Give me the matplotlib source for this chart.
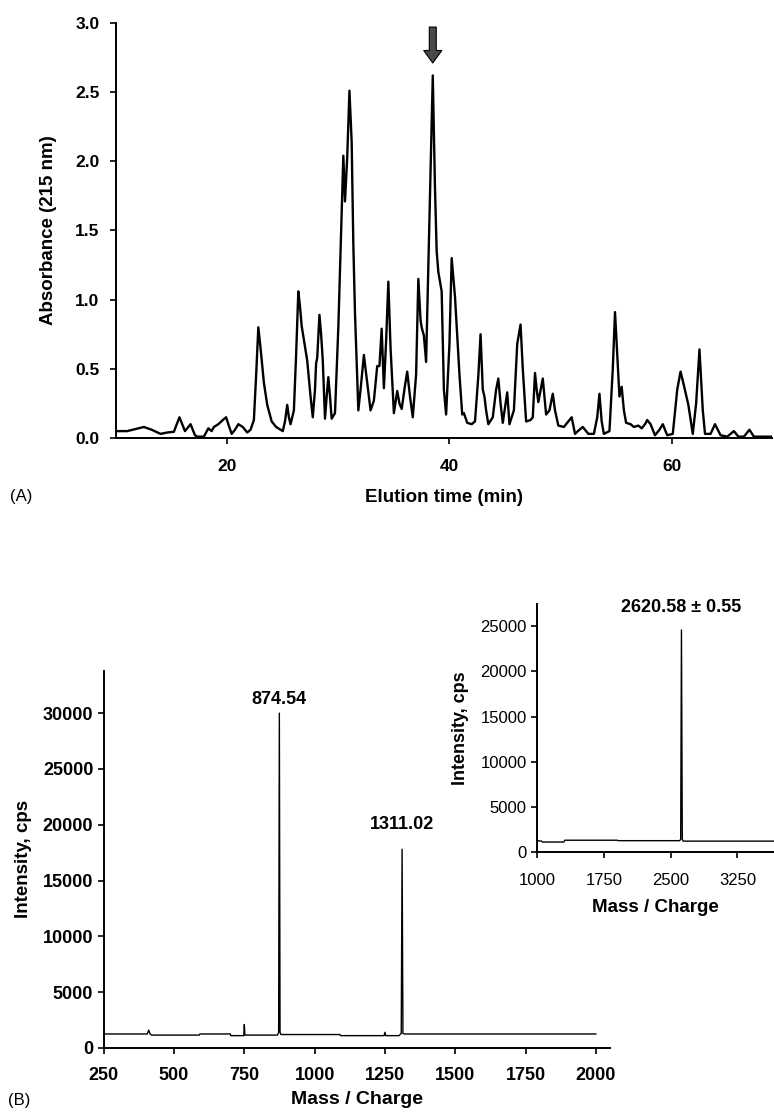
import matplotlib
matplotlib.use("Agg")
import matplotlib.pyplot as plt

plt.rcParams['font.family'] = ['Liberation Sans', 'DejaVu Sans']

# --- panel A: chromatogram (time in min, absorbance at 215 nm) ---
elution_time = [
    10.0, 11.0, 12.0, 12.5, 13.2, 14.0, 14.6, 15.2, 15.7, 16.2, 16.7, 17.1, 17.3, 17.9,
    18.3, 18.6, 18.8, 19.2, 19.6, 19.9, 20.1, 20.4, 20.7, 21.0, 21.4, 21.8, 22.1, 22.4,
    22.6, 22.8, 23.0, 23.3, 23.6, 24.0, 24.4, 24.8, 25.0, 25.2, 25.4, 25.55, 25.7, 26.0,
    26.2, 26.4, 26.55, 26.7, 27.2, 27.5, 27.7, 27.9, 28.0, 28.1, 28.3, 28.45, 28.6, 28.8,
    28.95, 29.1, 29.25, 29.4, 29.7, 30.0, 30.2, 30.45, 30.6, 30.8, 31.0, 31.2, 31.35, 31.5,
    31.8, 32.0, 32.3, 32.6, 32.9, 33.2, 33.5, 33.7, 33.9, 34.1, 34.3, 34.5, 34.7, 35.0,
    35.3, 35.5, 35.7, 36.0, 36.2, 36.45, 36.7, 37.0, 37.2, 37.4, 37.5, 37.7, 37.9, 38.2,
    38.5, 38.7, 38.85, 39.0, 39.3, 39.5, 39.7, 40.0, 40.2, 40.5, 40.9, 41.15, 41.3, 41.6,
    42.0, 42.3, 42.6, 42.8, 43.0, 43.15, 43.3, 43.5, 43.9, 44.2, 44.4, 44.6, 44.8, 45.0,
    45.2, 45.4, 45.8, 46.1, 46.4, 46.6, 46.9, 47.3, 47.5, 47.7, 47.85, 48.0, 48.4, 48.55,
    48.7, 49.0, 49.3, 49.5, 49.8, 50.3, 50.7, 51.0, 51.3, 51.7, 52.0, 52.5, 53.0, 53.3,
    53.5, 53.7, 53.9, 54.4, 54.7, 54.9, 55.1, 55.3, 55.5, 55.7, 55.9, 56.3, 56.6, 57.0,
    57.3, 57.6, 57.8, 58.1, 58.5, 58.9, 59.2, 59.6, 60.1, 60.5, 60.8, 61.1, 61.5, 61.9,
    62.2, 62.5, 62.8, 63.0, 63.5, 63.9, 64.4, 65.0, 65.6, 66.0, 66.5, 67.0, 67.4, 69.0,
]
absorbance = [
    0.05, 0.05, 0.07, 0.08, 0.06, 0.03, 0.04, 0.045, 0.15, 0.05, 0.10, 0.02, 0.01, 0.01,
    0.07, 0.05, 0.08, 0.10, 0.13, 0.15, 0.10, 0.03, 0.06, 0.10, 0.08, 0.04, 0.06, 0.13,
    0.45, 0.80, 0.65, 0.40, 0.24, 0.12, 0.08, 0.06, 0.05, 0.12, 0.24, 0.15, 0.10, 0.20,
    0.60, 1.06, 0.95, 0.81, 0.56, 0.30, 0.15, 0.35, 0.54, 0.58, 0.89, 0.75, 0.56, 0.14,
    0.30, 0.44, 0.30, 0.14, 0.18, 0.80, 1.35, 2.04, 1.71, 2.03, 2.51, 2.14, 1.40, 0.90,
    0.20, 0.35, 0.60, 0.40, 0.20, 0.27, 0.52, 0.52, 0.79, 0.36, 0.70, 1.13, 0.65, 0.18,
    0.34, 0.25, 0.21, 0.38, 0.48, 0.30, 0.15, 0.46, 1.15, 0.85, 0.80, 0.74, 0.55, 1.58,
    2.62, 1.80, 1.35, 1.20, 1.06, 0.35, 0.17, 0.68, 1.30, 1.02, 0.46, 0.17, 0.18, 0.11,
    0.10, 0.12, 0.45, 0.75, 0.35, 0.30, 0.20, 0.10, 0.15, 0.35, 0.43, 0.25, 0.11, 0.22,
    0.33, 0.10, 0.20, 0.68, 0.82, 0.50, 0.12, 0.13, 0.15, 0.47, 0.35, 0.26, 0.43, 0.30,
    0.17, 0.20, 0.32, 0.20, 0.09, 0.08, 0.12, 0.15, 0.03, 0.06, 0.08, 0.03, 0.03, 0.15,
    0.32, 0.12, 0.03, 0.05, 0.50, 0.91, 0.60, 0.30, 0.37, 0.20, 0.11, 0.10, 0.08, 0.09,
    0.07, 0.10, 0.13, 0.10, 0.02, 0.06, 0.10, 0.02, 0.03, 0.35, 0.48, 0.38, 0.24, 0.03,
    0.25, 0.64, 0.20, 0.03, 0.03, 0.10, 0.02, 0.01, 0.05, 0.01, 0.01, 0.06, 0.01, 0.01,
]
arrow_time = 38.5

# --- panel B: ESI mass spectrum ---
mz = [250, 405, 410, 415, 420, 590, 592, 700, 702, 748, 750, 752, 760, 868, 872, 874.54,
      877, 880, 1090, 1092, 1247, 1250, 1253, 1300, 1308, 1311.02, 1314, 1320, 2000]
intensity = [1250, 1250, 1600, 1250, 1150, 1150, 1250, 1250, 1100, 1100, 2100, 1150, 1150,
             1150, 1400, 30000, 1400, 1200, 1200, 1100, 1100, 1400, 1100, 1100, 1300, 17800,
             1300, 1250, 1250]
peak_mz = [874.54, 1311.02]
peak_height = [30000, 17800]
peak_text = ["874.54", "1311.02"]

# --- inset: reconstructed (deconvoluted) mass ---
mass = [1000, 1050, 1060, 1300, 1310, 1900, 1910, 2600, 2612, 2620.58, 2630, 2640, 3700]
mass_intensity = [1250, 1200, 1100, 1100, 1300, 1300, 1250, 1250, 1400, 24600, 1400, 1200, 1200]
mass_label = "2620.58 ± 0.55"


def style_axes(ax):
    for side in ("top", "right"):
        ax.spines[side].set_visible(False)
    for side in ("left", "bottom"):
        ax.spines[side].set_linewidth(1.4)
    ax.tick_params(direction="out", width=1.2, length=4)


fig = plt.figure(figsize=(7.74, 11.16), dpi=100)

# panel A
ax_a = fig.add_axes([0.150, 0.6075, 0.847, 0.372])
ax_a.plot(elution_time, absorbance, color="black", lw=1.7)
ax_a.set_xlim(10, 69)
ax_a.set_ylim(0, 3.0)
ax_a.set_xticks([20, 40, 60])
ax_a.set_yticks([0.0, 0.5, 1.0, 1.5, 2.0, 2.5, 3.0])
ax_a.set_yticklabels(["%.1f" % v for v in ax_a.get_yticks()])
style_axes(ax_a)
ax_a.tick_params(labelsize=12.5)
ax_a.tick_params(axis="x", pad=11)
ax_a.tick_params(axis="y", pad=8)
for lab in ax_a.get_xticklabels() + ax_a.get_yticklabels():
    lab.set_fontweight("bold")
ax_a.set_ylabel("Absorbance (215 nm)", fontsize=13.5, fontweight="bold", labelpad=13)
ax_a.set_xlabel("Elution time (min)", fontsize=13.5, fontweight="bold", labelpad=11)
ax_a.annotate("", xy=(arrow_time, 2.69), xytext=(arrow_time, 2.99),
              arrowprops=dict(arrowstyle="simple,head_width=1.3,head_length=0.9,tail_width=0.5",
                              fc="#4a4a4a", ec="black", lw=0.8),
              annotation_clip=False)
fig.text(10 / 774, 1 - 497 / 1116, "(A)", fontsize=12, va="center", ha="left")

# panel B main spectrum
ax_b = fig.add_axes([0.134, 0.061, 0.654, 0.338])
ax_b.plot(mz, intensity, color="black", lw=1.0)
ax_b.set_xlim(250, 2050)
ax_b.set_ylim(0, 33800)
ax_b.set_xticks([250, 500, 750, 1000, 1250, 1500, 1750, 2000])
ax_b.set_yticks([0, 5000, 10000, 15000, 20000, 25000, 30000])
style_axes(ax_b)
ax_b.tick_params(labelsize=13)
ax_b.tick_params(axis="x", pad=10)
for lab in ax_b.get_xticklabels() + ax_b.get_yticklabels():
    lab.set_fontweight("bold")
ax_b.set_ylabel("Intensity, cps", fontsize=13.5, fontweight="bold", labelpad=8)
ax_b.set_xlabel("Mass / Charge", fontsize=14, fontweight="bold", labelpad=5)
for x, y, txt, off in zip(peak_mz, peak_height, peak_text, [4, 12]):
    ax_b.annotate(txt, (x, y), xytext=(0, off), textcoords="offset points",
                  ha="center", va="bottom", fontsize=13, fontweight="bold")
fig.text(8 / 774, 1 - 1100 / 1116, "(B)", fontsize=12, va="center", ha="left")

# inset
ax_c = fig.add_axes([0.694, 0.2366, 0.306, 0.2224])
ax_c.plot(mass, mass_intensity, color="black", lw=1.0)
ax_c.set_xlim(1000, 3660)
ax_c.set_ylim(0, 27500)
ax_c.set_xticks([1000, 1750, 2500, 3250])
ax_c.set_yticks([0, 5000, 10000, 15000, 20000, 25000])
style_axes(ax_c)
ax_c.tick_params(labelsize=12)
ax_c.tick_params(axis="x", pad=11)
ax_c.set_ylabel("Intensity, cps", fontsize=13, fontweight="bold", labelpad=8)
ax_c.set_xlabel("Mass / Charge", fontsize=13.5, fontweight="bold", labelpad=8)
ax_c.annotate(mass_label, (2620.58, 24600), xytext=(0, 10), textcoords="offset points",
              ha="center", va="bottom", fontsize=13, fontweight="bold")

fig.savefig("out.png", dpi=100)
